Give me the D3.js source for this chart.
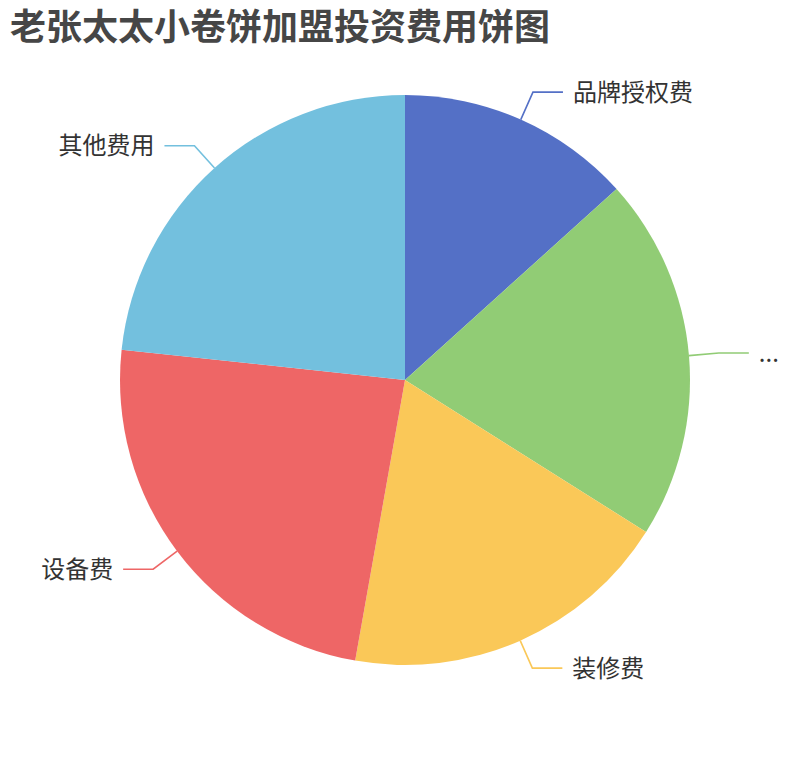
<!DOCTYPE html>
<html>
<head>
<meta charset="utf-8">
<script src="https://cdn.jsdelivr.net/npm/d3@7/dist/d3.min.js"></script>
<style>
  html, body { margin: 0; padding: 0; background: #fff; }
  svg { display: block; font-family: "Noto Sans CJK SC", "Noto Sans", sans-serif; }
</style>
</head>
<body>
<div id="chart"></div>
<script>
// --- Data ---
const TITLE = "老张太太小卷饼加盟投资费用饼图";
const categories = ["品牌授权费", "...", "装修费", "设备费", "其他费用"];
const values = [2, 3.1, 2.83, 3.59, 3.5];
const palette = ["#5470c6", "#91cc75", "#fac858", "#ee6666", "#73c0de"];

// --- Layout ---
const WIDTH = 810;
const HEIGHT = 760;
const CX = 405;
const CY = 380;
const RADIUS = 285;
const LINE_LEN1 = 30;
const LINE_LEN2 = 30;
const LABEL_GAP = 10;

const svg = d3.select("#chart")
  .append("svg")
  .attr("width", WIDTH)
  .attr("height", HEIGHT);

svg.append("text")
  .attr("x", 10)
  .attr("y", 40)
  .attr("fill", "#464646")
  .attr("font-size", 36)
  .attr("font-weight", "bold")
  .text(TITLE);

const data = categories.map((name, i) => ({ name, value: values[i] }));

const color = d3.scaleOrdinal().domain(categories).range(palette);

const pie = d3.pie()
  .sort(null)
  .value(d => d.value);

const arcs = pie(data);

const arc = d3.arc().innerRadius(0).outerRadius(RADIUS);
const edgeArc = d3.arc().innerRadius(RADIUS).outerRadius(RADIUS);
const outerArc = d3.arc().innerRadius(RADIUS + LINE_LEN1).outerRadius(RADIUS + LINE_LEN1);

const g = svg.append("g").attr("transform", `translate(${CX},${CY})`);

g.selectAll("path.slice")
  .data(arcs)
  .join("path")
  .attr("class", "slice")
  .attr("d", arc)
  .attr("fill", d => color(d.data.name));

// label lines: edge -> elbow -> horizontal
const midAngle = d => (d.startAngle + d.endAngle) / 2;
const side = d => (Math.sin(midAngle(d)) >= 0 ? 1 : -1);

g.selectAll("polyline.label-line")
  .data(arcs)
  .join("polyline")
  .attr("class", "label-line")
  .attr("fill", "none")
  .attr("stroke", d => color(d.data.name))
  .attr("stroke-width", 1.6)
  .attr("points", d => {
    const p1 = edgeArc.centroid(d);
    const p2 = outerArc.centroid(d);
    const p3 = [p2[0] + side(d) * LINE_LEN2, p2[1]];
    return [p1, p2, p3].map(p => p.join(",")).join(" ");
  });

g.selectAll("text.label")
  .data(arcs)
  .join("text")
  .attr("class", "label")
  .attr("x", d => outerArc.centroid(d)[0] + side(d) * (LINE_LEN2 + LABEL_GAP))
  .attr("y", d => outerArc.centroid(d)[1] - 2)
  .attr("dominant-baseline", "central")
  .attr("text-anchor", d => (side(d) > 0 ? "start" : "end"))
  .attr("font-size", 24)
  .attr("fill", "#333")
  .text(d => d.data.name);
</script>
</body>
</html>
